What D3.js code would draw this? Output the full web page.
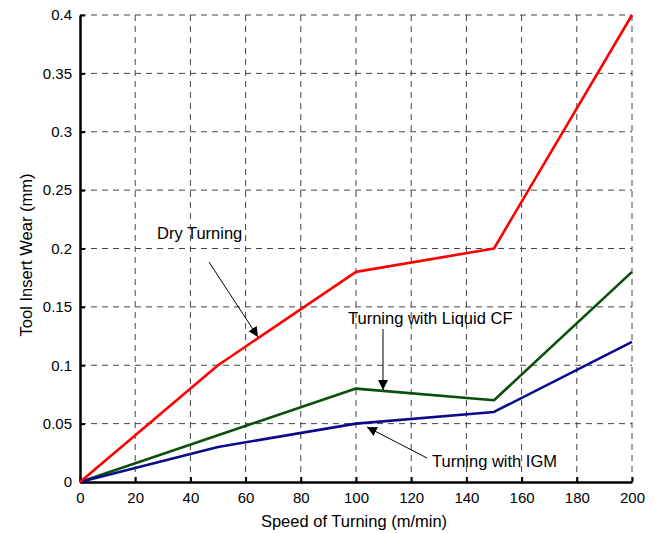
<!DOCTYPE html>
<html>
<head>
<meta charset="utf-8">
<script src="https://cdn.jsdelivr.net/npm/d3@7"></script>
<style>
  body { margin: 0; background: #fff; }
  text { font-family: "Liberation Sans", Arial, sans-serif; }
</style>
</head>
<body>
<div id="viz"></div>
<script>
// chart data
var speeds = [0, 50, 100, 150, 200];
var dryWear = [0, 0.1, 0.18, 0.2, 0.4];
var liquidWear = [0, 0.04, 0.08, 0.07, 0.18];
var igmWear = [0, 0.03, 0.05, 0.06, 0.12];
var xTicks = [0, 20, 40, 60, 80, 100, 120, 140, 160, 180, 200];
var yTicks = [0, 0.05, 0.1, 0.15, 0.2, 0.25, 0.3, 0.35, 0.4];

var W = 662, H = 533;
var margin = { top: 15, right: 30, bottom: 51, left: 80 };
var w = W - margin.left - margin.right;
var h = H - margin.top - margin.bottom;

var svg = d3.select("#viz").append("svg")
    .attr("width", W)
    .attr("height", H);

var g = svg.append("g")
    .attr("transform", "translate(" + margin.left + "," + margin.top + ")");

var x = d3.scaleLinear().domain([0, 200]).range([0, w]);
var y = d3.scaleLinear().domain([0, 0.4]).range([h, 0]);

// grid
g.selectAll(".vgrid").data(xTicks.slice(1)).enter().append("line")
    .attr("x1", function(d) { return x(d); }).attr("x2", function(d) { return x(d); })
    .attr("y1", 0).attr("y2", h)
    .attr("stroke", "#444").attr("stroke-width", 1).attr("stroke-dasharray", "6,5");
g.selectAll(".hgrid").data(yTicks.slice(1)).enter().append("line")
    .attr("x1", 0).attr("x2", w)
    .attr("y1", function(d) { return y(d); }).attr("y2", function(d) { return y(d); })
    .attr("stroke", "#444").attr("stroke-width", 1).attr("stroke-dasharray", "6,5");

// axes
var xAxis = d3.axisBottom(x).tickValues(xTicks).tickSizeInner(-5).tickSizeOuter(0).tickPadding(10);
var yAxis = d3.axisLeft(y).tickValues(yTicks).tickSizeInner(-5).tickSizeOuter(0).tickPadding(8)
    .tickFormat(function(d) { return d3.format("~g")(d); });

var gx = g.append("g").attr("transform", "translate(0," + h + ")").call(xAxis);
var gy = g.append("g").call(yAxis);
[gx, gy].forEach(function(a) {
  a.selectAll("text").attr("font-size", 15).attr("fill", "#000")
      .style("font-family", "'Liberation Sans', Arial, sans-serif");
  a.select(".domain").attr("stroke", "#000").attr("stroke-width", 2.5);
  a.selectAll(".tick line").attr("stroke", "#000").attr("stroke-width", 2);
});

// lines
var line = d3.line()
    .x(function(d, i) { return x(speeds[i]); })
    .y(function(d) { return y(d); });

var series = [
  { vals: liquidWear, color: "#0a4f0a" },
  { vals: igmWear, color: "#0a0a8c" },
  { vals: dryWear, color: "#ff0000" }
];
series.forEach(function(s) {
  g.append("path").datum(s.vals)
      .attr("d", line)
      .attr("fill", "none")
      .attr("stroke", s.color)
      .attr("stroke-width", 2.6)
      .attr("stroke-linejoin", "round");
});

// annotations
svg.append("defs").append("marker")
    .attr("id", "arr").attr("viewBox", "0 0 10 10")
    .attr("refX", 10).attr("refY", 5)
    .attr("markerWidth", 10).attr("markerHeight", 10)
    .attr("markerUnits", "userSpaceOnUse")
    .attr("orient", "auto")
  .append("path").attr("d", "M0,0 L10,5 L0,10 Z").attr("fill", "#000");

var notes = [
  { text: "Dry Turning", tx: 157, ty: 239, x1: 209, y1: 262, x2: 258, y2: 337 },
  { text: "Turning with Liquid CF", tx: 348, ty: 324, x1: 383, y1: 329, x2: 383, y2: 390 },
  { text: "Turning with IGM", tx: 432, ty: 467, x1: 427, y1: 458, x2: 367, y2: 427 }
];
notes.forEach(function(n) {
  svg.append("text").attr("x", n.tx).attr("y", n.ty)
      .attr("font-size", 16.5).attr("fill", "#000").text(n.text);
  svg.append("line")
      .attr("x1", n.x1).attr("y1", n.y1).attr("x2", n.x2).attr("y2", n.y2)
      .attr("stroke", "#000").attr("stroke-width", 1)
      .attr("marker-end", "url(#arr)");
});

// axis titles
svg.append("text")
    .attr("x", 354).attr("y", 527)
    .attr("text-anchor", "middle").attr("font-size", 16.5)
    .text("Speed of Turning (m/min)");
svg.append("text")
    .attr("transform", "translate(32,255) rotate(-90)")
    .attr("text-anchor", "middle").attr("font-size", 16.5)
    .text("Tool Insert Wear (mm)");
</script>
</body>
</html>
